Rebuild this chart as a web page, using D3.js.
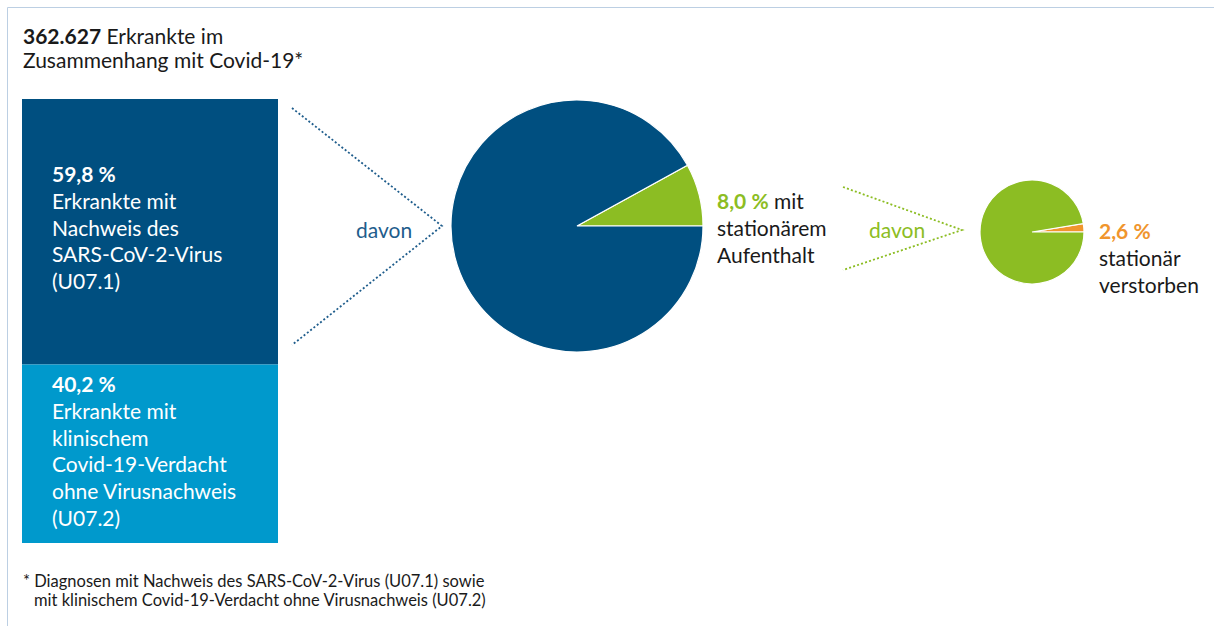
<!DOCTYPE html>
<html>
<head>
<meta charset="utf-8">
<script src="https://cdn.jsdelivr.net/npm/d3@7"></script>
<style>
  body { margin: 0; background: #fff; }
  text { font-family: Lato, "Open Sans", sans-serif; }
</style>
</head>
<body>
<div id="chart"></div>
<script>
// Data
let total = "362.627";
let groups = ["U07.1", "U07.2"];
let groupShares = [59.8, 40.2];
let groupLabels = [
    ["Erkrankte mit", "Nachweis des", "SARS-CoV-2-Virus", "(U07.1)"],
    ["Erkrankte mit", "klinischem", "Covid-19-Verdacht", "ohne Virusnachweis", "(U07.2)"]
];
let hospitalShare = 8.0;     // of U07.1
let deceasedShare = 2.6;     // of hospitalised

let svgWidth = 1214;
let svgHeight = 626;
let fs = 21;

let colors = {
    dark: "#004f80",
    light: "#0099cc",
    green: "#8cbd23",
    orange: "#f0952d",
    text: "#1a1a1a"
};

let svg = d3.select("#chart")
    .append("svg")
    .attr("width", svgWidth)
    .attr("height", svgHeight);

// frame lines (top + left)
svg.append("line").attr("x1", 7.5).attr("x2", svgWidth).attr("y1", 7.5).attr("y2", 7.5)
    .attr("stroke", "#bccfe3").attr("stroke-width", 1);
svg.append("line").attr("x1", 7.5).attr("x2", 7.5).attr("y1", 7.5).attr("y2", svgHeight)
    .attr("stroke", "#bccfe3").attr("stroke-width", 1);

// title
let title = svg.append("text").attr("x", 23).attr("y", 44)
    .attr("font-size", fs).attr("fill", colors.text);
title.append("tspan").attr("font-weight", "bold").text(total);
title.append("tspan").text(" Erkrankte im");
svg.append("text").attr("x", 23).attr("y", 68)
    .attr("font-size", fs).attr("fill", colors.text)
    .text("Zusammenhang mit Covid-19*");

// stacked bar
let y = d3.scaleLinear().domain([0, 100]).range([99, 543]);
let stack = [];
let acc = 0;
groupShares.forEach((v, i) => {
    stack.push({ key: groups[i], y0: acc, y1: acc + v, lines: groupLabels[i] });
    acc += v;
});
let barFill = [colors.dark, colors.light];
let textTop = [182, 392];

svg.selectAll("rect.bar")
    .data(stack)
    .enter()
    .append("rect")
    .attr("class", "bar")
    .attr("x", 22)
    .attr("width", 256)
    .attr("y", d => y(d.y0))
    .attr("height", d => y(d.y1) - y(d.y0))
    .attr("fill", (d, i) => barFill[i]);

stack.forEach((d, i) => {
    let t = svg.append("text").attr("x", 52).attr("y", textTop[i])
        .attr("font-size", fs).attr("fill", "#fff");
    t.append("tspan").attr("x", 52).attr("font-weight", "bold")
        .text(d3.format(".1f")(groupShares[i]).replace(".", ",") + " %");
    d.lines.forEach(l => {
        t.append("tspan").attr("x", 52).attr("dy", 26.8).text(l);
    });
});

// "davon" connector helper
function connector(x0, yTop, yBot, xTip, yTip, color, labelX, labelY) {
    svg.append("path")
        .attr("d", d3.line()([[x0, yTop], [xTip, yTip], [x0, yBot]]))
        .attr("fill", "none")
        .attr("stroke", color)
        .attr("stroke-width", 1.8)
        .attr("stroke-dasharray", "2,2.2");
    svg.append("text").attr("x", labelX).attr("y", labelY)
        .attr("font-size", fs).attr("fill", color).text("davon");
}

connector(292, 108, 345, 442, 226, "#1f5d8c", 356, 238);
connector(843, 187, 270, 962, 230, colors.green, 869, 238);

// pie helper: small slice from 3 o'clock counterclockwise
function drawPie(cx, cy, r, share, colSmall, colBig) {
    let f = share / 100;
    let start = Math.PI / 2 - f * 2 * Math.PI;
    let pie = d3.pie().sort(null).value(d => d)
        .startAngle(start).endAngle(start + 2 * Math.PI);
    let arc = d3.arc().innerRadius(0).outerRadius(r);
    let g = svg.append("g").attr("transform", `translate(${cx},${cy})`);
    g.selectAll("path")
        .data(pie([share, 100 - share]))
        .enter()
        .append("path")
        .attr("d", arc)
        .attr("fill", (d, i) => i === 0 ? colSmall : colBig)
        .attr("stroke", "#fff")
        .attr("stroke-width", 1.2);
}

drawPie(577, 226, 126, hospitalShare, colors.green, colors.dark);
drawPie(1032, 232, 52, deceasedShare, colors.orange, colors.green);

// labels for pies
let fmt = v => d3.format(".1f")(v).replace(".", ",") + " %";

let l1 = svg.append("text").attr("x", 717).attr("y", 209)
    .attr("font-size", fs).attr("fill", colors.text);
l1.append("tspan").attr("font-weight", "bold").attr("fill", colors.green).text(fmt(hospitalShare));
l1.append("tspan").text(" mit");
svg.append("text").attr("x", 717).attr("y", 236).attr("font-size", fs)
    .attr("fill", colors.text).text("stationärem");
svg.append("text").attr("x", 717).attr("y", 263).attr("font-size", fs)
    .attr("fill", colors.text).text("Aufenthalt");

svg.append("text").attr("x", 1099).attr("y", 239).attr("font-size", fs)
    .attr("font-weight", "bold").attr("fill", colors.orange).text(fmt(deceasedShare));
svg.append("text").attr("x", 1099).attr("y", 266).attr("font-size", fs)
    .attr("fill", colors.text).text("stationär");
svg.append("text").attr("x", 1099).attr("y", 293).attr("font-size", fs)
    .attr("fill", colors.text).text("verstorben");

// footnote
svg.append("text").attr("x", 23).attr("y", 587).attr("font-size", 16.5)
    .attr("fill", colors.text)
    .text("* Diagnosen mit Nachweis des SARS-CoV-2-Virus (U07.1) sowie");
svg.append("text").attr("x", 34).attr("y", 606).attr("font-size", 16.5)
    .attr("fill", colors.text)
    .text("mit klinischem Covid-19-Verdacht ohne Virusnachweis (U07.2)");
</script>
</body>
</html>
